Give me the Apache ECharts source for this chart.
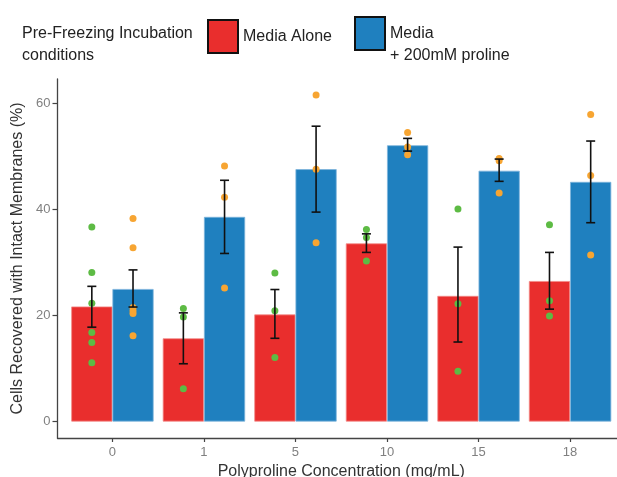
<!DOCTYPE html>
<html>
<head>
<meta charset="utf-8">
<script src="https://cdn.jsdelivr.net/npm/echarts@6/dist/echarts.min.js"></script>
<style>html,body{margin:0;padding:0;background:#fff}#c{width:617px;height:477px}</style>
</head>
<body>
<div id="c"></div>
<script>
const categories = ['0', '1', '5', '10', '15', '18'];
const aloneMean = [21.7, 15.7, 20.2, 33.6, 23.7, 26.5];
const aloneLow = [17.8, 10.9, 15.7, 31.9, 15.0, 21.2];
const aloneHigh = [25.5, 20.5, 24.9, 35.4, 32.9, 31.9];
const prolineMean = [25.0, 38.6, 47.6, 52.1, 47.3, 45.2];
const prolineLow = [21.6, 31.7, 39.5, 51.0, 45.3, 37.5];
const prolineHigh = [28.6, 45.5, 55.7, 53.4, 49.5, 52.9];
const alonePoints = [
  [36.7, 28.1, 22.3, 16.8, 14.9, 11.1],
  [21.3, 19.7, 6.2],
  [28.0, 20.9, 12.1],
  [36.2, 34.7, 30.3],
  [40.1, 22.2, 9.5],
  [37.1, 22.8, 19.9]
];
const prolinePoints = [
  [38.3, 32.8, 21.5, 20.9, 20.4, 16.2],
  [48.2, 42.3, 25.2],
  [61.6, 47.6, 33.7],
  [54.5, 51.8, 50.3],
  [49.6, 49.2, 43.1],
  [57.9, 46.4, 31.4]
];
const yTicks = [0, 20, 40, 60];

const DODGE = 0.225;
const xPos = categories.map((c, i) => i + 1);

const barData = (arr) => arr.map((v, i) => [xPos[i], v]);
const pointData = (groups, off) => {
  const out = [];
  groups.forEach((g, i) => g.forEach(v => out.push([xPos[i] + off, v])));
  return out;
};
const errData = [];
categories.forEach((c, i) => {
  errData.push([xPos[i] - DODGE, aloneLow[i], aloneHigh[i]]);
  errData.push([xPos[i] + DODGE, prolineLow[i], prolineHigh[i]]);
});

const chart = echarts.init(document.getElementById('c'), null, {renderer: 'canvas'});
const FONT = "'Liberation Sans', Arial, Helvetica, sans-serif";

chart.setOption({
  animation: false,
  textStyle: {fontFamily: FONT},
  title: {
    text: 'Pre-Freezing Incubation\nconditions',
    left: 22, top: 23, padding: 0,
    textStyle: {fontSize: 16, lineHeight: 22, fontWeight: 'normal', color: '#222', fontFamily: FONT}
  },
  legend: [
    {
      left: 207, top: 19, padding: 0,
      data: ['Media Alone'], icon: 'rect', itemWidth: 30, itemHeight: 33,
      selectedMode: false,
      itemStyle: {borderColor: '#111', borderWidth: 2},
      textStyle: {fontSize: 16, color: '#222', fontFamily: FONT, padding: [0, 0, 4, 0]}
    },
    {
      left: 354, top: 0.5, padding: 0,
      data: ['Media + 200mM proline'], icon: 'rect', itemWidth: 30, itemHeight: 33,
      selectedMode: false,
      itemStyle: {borderColor: '#111', borderWidth: 2},
      formatter: () => ' \nMedia\n+ 200mM proline',
      textStyle: {fontSize: 16, lineHeight: 22, color: '#222', fontFamily: FONT}
    }
  ],
  grid: {left: 57.5, right: -8, top: 79, bottom: 39, containLabel: false, outerBoundsMode: 'none'},
  xAxis: {
    type: 'value', min: 0.4, max: 6.6,
    name: 'Polyproline Concentration (mg/mL)', nameLocation: 'middle', nameGap: 24,
    nameTextStyle: {fontSize: 16, color: '#333', fontFamily: FONT},
    splitLine: {show: false},
    axisLine: {show: true, onZero: false, lineStyle: {color: '#444', width: 1.3}},
    axisTick: {show: true, length: 4, customValues: xPos, lineStyle: {color: '#444', width: 1.2}},
    axisLabel: {
      customValues: xPos, margin: 8, fontSize: 13, color: '#808080', fontFamily: FONT,
      formatter: (v) => categories[Math.round(v) - 1]
    }
  },
  yAxis: {
    type: 'value', min: -3.1, max: 64.6,
    name: 'Cells Recovered with Intact Membranes (%)', nameLocation: 'middle', nameGap: 31,
    nameTextStyle: {fontSize: 16, color: '#333', fontFamily: FONT},
    splitLine: {show: false},
    axisLine: {show: true, onZero: false, lineStyle: {color: '#444', width: 1.3}},
    axisTick: {show: true, length: 5, customValues: yTicks, lineStyle: {color: '#444', width: 1.2}},
    axisLabel: {customValues: yTicks, margin: 7, fontSize: 13, color: '#808080', fontFamily: FONT}
  },
  series: [
    {
      name: 'Media Alone', type: 'bar', data: barData(aloneMean), z: 1,
      barWidth: '45%', barGap: '0%',
      itemStyle: {color: '#E92E2D', borderColor: '#F38A88', borderWidth: 0.8},
      emphasis: {disabled: true}
    },
    {
      name: 'Media + 200mM proline', type: 'bar', data: barData(prolineMean), z: 1,
      barWidth: '45%', barGap: '0%',
      itemStyle: {color: '#1F80BF', borderColor: '#7DB4DC', borderWidth: 0.8},
      emphasis: {disabled: true}
    },
    {
      type: 'scatter', data: pointData(alonePoints, -DODGE), symbolSize: 7, z: 5,
      itemStyle: {color: '#5DBB44', opacity: 1}, emphasis: {disabled: true}
    },
    {
      type: 'scatter', data: pointData(prolinePoints, DODGE), symbolSize: 7, z: 5,
      itemStyle: {color: '#F7A532', opacity: 1}, emphasis: {disabled: true}
    },
    {
      type: 'custom', data: errData, encode: {x: 0, y: [1, 2]}, z: 10,
      renderItem: (params, api) => {
        const x = api.value(0);
        const lo = api.coord([x, api.value(1)]);
        const hi = api.coord([x, api.value(2)]);
        const w = 4.5;
        const style = {stroke: '#111', lineWidth: 1.6};
        return {
          type: 'group',
          children: [
            {type: 'line', shape: {x1: lo[0], y1: lo[1], x2: hi[0], y2: hi[1]}, style},
            {type: 'line', shape: {x1: hi[0] - w, y1: hi[1], x2: hi[0] + w, y2: hi[1]}, style},
            {type: 'line', shape: {x1: lo[0] - w, y1: lo[1], x2: lo[0] + w, y2: lo[1]}, style}
          ]
        };
      }
    }
  ]
});
</script>
</body>
</html>
